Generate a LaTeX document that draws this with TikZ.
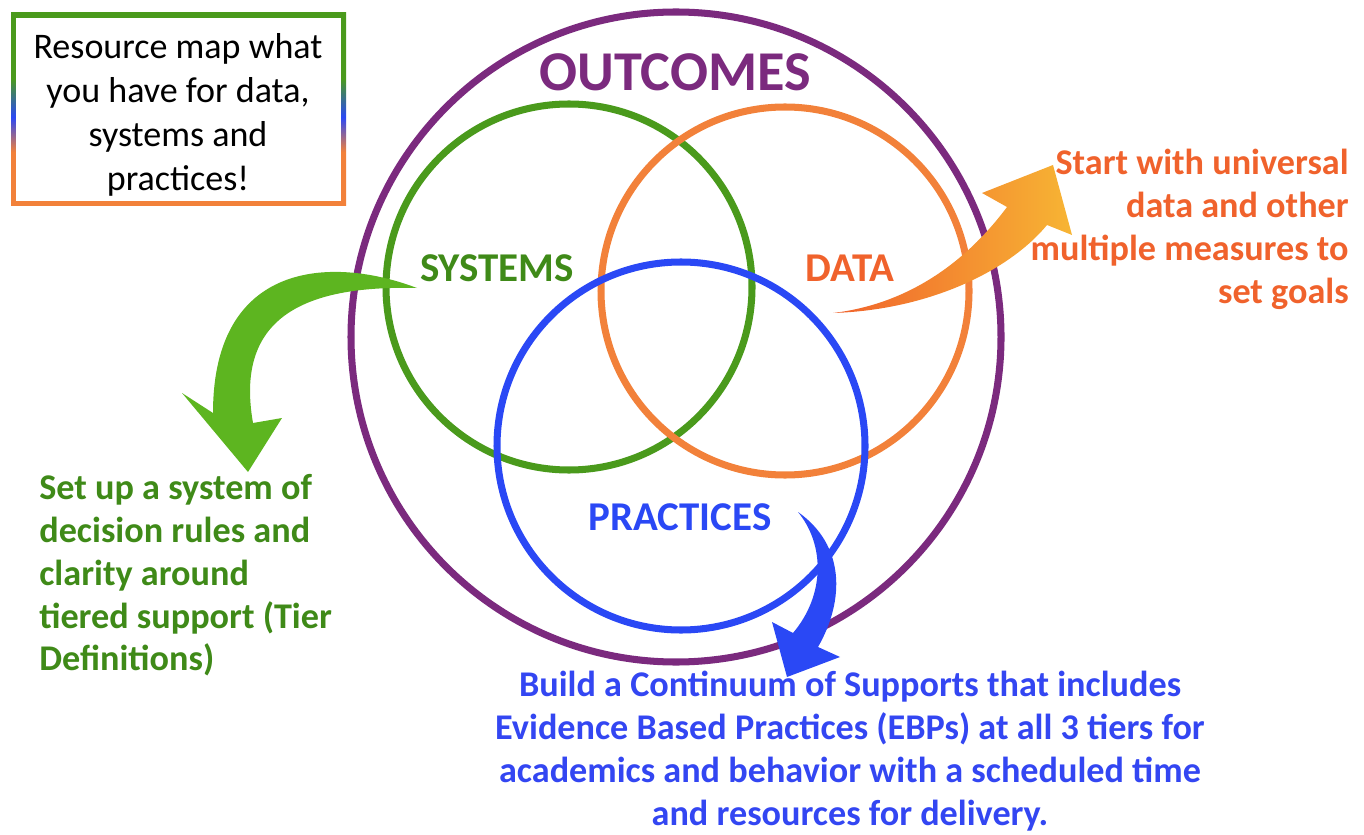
\documentclass[tikz,border=0pt]{standalone}
\usepackage{fontspec}
\setmainfont{Carlito}
\usepackage{tikz}
\usetikzlibrary{positioning,calc}
\usepackage{xcolor}

\definecolor{outcomepurple}{HTML}{7B2A7E}
\definecolor{systemgreen}{HTML}{4A9A1C}
\definecolor{textgreen}{HTML}{3F8A18}
\definecolor{arrowgreen}{HTML}{5DB520}
\definecolor{dataorange}{HTML}{F2813A}
\definecolor{textorange}{HTML}{F0622C}
\definecolor{arrowyellow}{HTML}{F7B534}
\definecolor{practiceblue}{HTML}{2A48F5}
\definecolor{textblue}{HTML}{3346F2}

\pgfdeclareverticalshading{boxedge}{100bp}{color(0bp)=(dataorange); color(39bp)=(dataorange);
  color(48bp)=(practiceblue); color(58bp)=(systemgreen); color(100bp)=(systemgreen)}

\begin{document}
\begin{tikzpicture}[x=0.02cm, y=-0.02cm,
    ring/.style={line width=4pt},
    heading/.style={font=\fontsize{23.3}{26}\selectfont\bfseries, inner sep=0pt},
    note/.style={font=\fontsize{20.6}{24.4}\selectfont\bfseries, inner sep=0pt}]
    \useasboundingbox (0,0) rectangle (1364,834);

      % Rings
      \draw[ring, outcomepurple] (676,337) circle (325);
      \draw[ring, systemgreen] (569,287) circle (183);
      \draw[ring, dataorange] (785,291) circle (184);
      \draw[ring, practiceblue] (681,446) circle (184);

      % Headings
      \node[heading, font=\fontsize{32}{36}\selectfont\bfseries, text=outcomepurple] (outcomes) at (675,72) {OUTCOMES};
      \node[heading, text=textgreen] (systems) at (497,268) {SYSTEMS};
      \node[heading, text=textorange] (data) at (850,268) {DATA};
      \node[heading, text=practiceblue] (practices) at (680,517) {PRACTICES};

      % Resource box
      \shade[shading=boxedge] (11,13) rectangle (346,206);
      \fill[white] (16,18) rectangle (341,201);
      \node[font=\fontsize{20.5}{25}\selectfont, align=center] (resource) at (178,115)
        {Resource map what\\you have for data,\\systems and\\practices!};

      % Arrows
      \fill[arrowgreen] (417,288) .. controls (330,255) and (213,262) .. (213,413)
        -- (182,393) -- (248,472) -- (282,418) -- (253,423)
        .. controls (235,320) and (300,285) .. (417,288) -- cycle;
      \shade[left color=textorange, right color=arrowyellow]
        (833,313) .. controls (930,310) and (1010,270) .. (1047,225)
        -- (1072,235) -- (1053,165) -- (982,193) -- (1007,207)
        .. controls (960,270) and (900,305) .. (833,313) -- cycle;
      \fill[practiceblue] (798,512) .. controls (845,545) and (845,600) .. (818,647)
        -- (840,657) -- (787,677) -- (772,622) -- (793,633)
        .. controls (825,595) and (825,545) .. (798,512) -- cycle;

      % Notes
      \node[note, text=textgreen, align=left, anchor=north west] (systemsnote) at (39,474)
        {Set up a system of\\decision rules and\\clarity around\\tiered support (Tier\\Definitions)};
      \node[note, text=textorange, align=right, anchor=north east] (datanote) at (1349,149)
        {Start with universal\\data and other\\multiple measures to\\set goals};
      \node[note, text=textblue, align=center, anchor=north] (practicesnote) at (850,671)
        {Build a Continuum of Supports that includes\\Evidence Based Practices (EBPs) at all 3 tiers for\\academics and behavior with a scheduled time\\and resources for delivery.};
  \end{tikzpicture}
\end{document}
